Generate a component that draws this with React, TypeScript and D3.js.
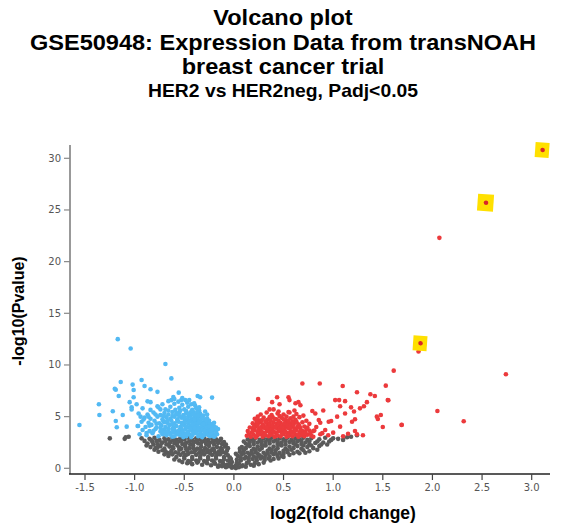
import React from 'react';
import * as d3 from 'd3';

// log2FC, -log10(p)
const downGenes: [number, number][] = [
  [-1.17, 12.5], [-1.04, 11.6], [-0.69, 10.1], [-0.63, 8.7], [-1.14, 8.35], [-1.19, 7.6], [-1.2, 7.7],
  [-1.02, 8.1], [-0.93, 8.55], [-0.9, 7.97], [-0.84, 7.65], [-0.77, 7.4], [-1.16, 7.0], [-1.01, 7.58],
  [-1.36, 6.2], [-1.355, 5.16], [-1.556, 4.19], [-1.22, 5.52], [-1.19, 4.58], [-1.18, 3.97], [-1.08, 4.03],
  [-1.12, 5.16], [-1.05, 6.4], [-1.03, 5.9], [-0.98, 6.2], [-1.03, 5.7], [-1.01, 6.87], [-0.94, 5.0],
  [-0.965, 4.1], [-0.87, 6.48], [-0.84, 6.4], [-0.77, 6.0], [-0.74, 5.7], [-0.556, 7.32], [-0.61, 6.9],
  [-0.63, 6.6], [-0.53, 6.6], [-0.49, 6.6], [-0.365, 7.0], [-0.34, 6.87], [-0.22, 6.84], [-0.29, 5.5], [-0.27, 5.2],
  [-0.95, 3.3], [-0.88, 3.2], [-0.82, 3.4], [-0.76, 3.1], [-0.72, 3.3], [-0.68, 3.2], [-0.64, 3.4], [-0.6, 3.1],
  [-0.57, 3.3], [-0.54, 3.2], [-0.51, 3.4], [-0.48, 3.1], [-0.45, 3.3], [-0.42, 3.2], [-0.39, 3.4], [-0.36, 3.1],
  [-0.33, 3.3], [-0.3, 3.2], [-0.27, 3.4], [-0.24, 3.1], [-0.21, 3.3], [-0.19, 3.15], [-0.17, 3.3],
  [-0.92, 3.7], [-0.85, 3.6], [-0.79, 3.8], [-0.74, 3.55], [-0.7, 3.75], [-0.66, 3.6], [-0.62, 3.8], [-0.59, 3.55],
  [-0.55, 3.7], [-0.52, 3.6], [-0.49, 3.8], [-0.46, 3.55], [-0.43, 3.7], [-0.4, 3.6], [-0.37, 3.8], [-0.34, 3.55],
  [-0.31, 3.7], [-0.28, 3.6], [-0.25, 3.8], [-0.22, 3.55], [-0.19, 3.7],
  [-0.97, 4.1], [-0.89, 4.0], [-0.83, 4.2], [-0.78, 3.95], [-0.73, 4.15], [-0.69, 4.0], [-0.65, 4.2], [-0.61, 3.95],
  [-0.58, 4.1], [-0.54, 4.0], [-0.5, 4.2], [-0.47, 3.95], [-0.44, 4.1], [-0.41, 4.0], [-0.38, 4.2], [-0.35, 3.95],
  [-0.32, 4.1], [-0.29, 4.0], [-0.26, 4.2], [-0.23, 3.95], [-0.2, 4.05],
  [-0.93, 4.5], [-0.86, 4.4], [-0.8, 4.6], [-0.75, 4.35], [-0.71, 4.55], [-0.67, 4.4], [-0.63, 4.6], [-0.6, 4.35],
  [-0.56, 4.5], [-0.53, 4.4], [-0.49, 4.6], [-0.46, 4.35], [-0.42, 4.5], [-0.39, 4.4], [-0.36, 4.6], [-0.33, 4.35],
  [-0.3, 4.5], [-0.27, 4.4], [-0.24, 4.3],
  [-0.9, 4.9], [-0.84, 4.8], [-0.77, 5.0], [-0.72, 4.75], [-0.68, 4.95], [-0.64, 4.8], [-0.6, 5.0], [-0.57, 4.75],
  [-0.53, 4.9], [-0.5, 4.8], [-0.46, 5.0], [-0.43, 4.75], [-0.4, 4.9], [-0.37, 4.8], [-0.33, 4.95], [-0.3, 4.75],
  [-0.27, 4.85],
  [-0.96, 5.3], [-0.87, 5.2], [-0.81, 5.4], [-0.74, 5.15], [-0.7, 5.35], [-0.66, 5.2], [-0.62, 5.45], [-0.58, 5.2],
  [-0.55, 5.4], [-0.51, 5.15], [-0.48, 5.35], [-0.44, 5.2], [-0.41, 5.45], [-0.38, 5.2], [-0.34, 5.3], [-0.31, 5.1],
  [-0.92, 5.8], [-0.84, 5.65], [-0.76, 5.9], [-0.69, 5.7], [-0.64, 5.95], [-0.59, 5.65], [-0.55, 5.85], [-0.5, 5.7],
  [-0.46, 5.95], [-0.42, 5.65], [-0.38, 5.8], [-0.35, 5.6],
  [-0.72, 6.2], [-0.66, 6.5], [-0.6, 6.25], [-0.56, 6.45], [-0.52, 6.15], [-0.47, 6.35], [-0.43, 6.2], [-0.39, 6.05],
  [-0.58, 3.45], [-0.53, 3.9], [-0.47, 4.7], [-0.41, 3.45], [-0.36, 4.3], [-0.31, 3.85], [-0.26, 3.5], [-0.22, 4.2],
  [-0.18, 3.55], [-0.5, 4.45], [-0.44, 3.85], [-0.39, 5.05], [-0.34, 4.65], [-0.29, 4.25], [-0.25, 4.6], [-0.21, 3.9],
  [-0.16, 3.8], [-0.55, 5.05], [-0.48, 5.55], [-0.43, 5.5], [-0.37, 5.45], [-0.62, 4.25], [-0.66, 3.85], [-0.7, 4.45],
  [-0.45, 6.6], [-0.4, 6.3], [-0.35, 5.9], [-0.52, 6.8], [-0.6, 6.7],
  [-0.62, 3.05], [-0.56, 3.58], [-0.51, 3.02], [-0.47, 3.48], [-0.43, 3.02], [-0.38, 3.52], [-0.35, 3.27], [-0.32, 3.02],
  [-0.29, 3.48], [-0.26, 3.22], [-0.23, 3.42], [-0.2, 3.05], [-0.18, 3.95], [-0.24, 3.68], [-0.27, 3.98], [-0.33, 3.75],
  [-0.37, 4.05], [-0.42, 4.25], [-0.45, 4.55], [-0.48, 4.05], [-0.52, 4.28], [-0.57, 4.58], [-0.6, 3.72], [-0.64, 3.25],
  [-0.67, 4.62], [-0.71, 3.42], [-0.74, 3.92], [-0.78, 4.32], [-0.81, 3.62], [-0.85, 4.12], [-0.88, 3.42], [-0.91, 4.72],
  [-0.35, 4.45], [-0.31, 4.28], [-0.28, 4.62], [-0.25, 4.05], [-0.22, 3.78], [-0.2, 4.4], [-0.4, 4.7], [-0.44, 5.05],
  [-0.5, 4.95], [-0.54, 5.6], [-0.58, 5.35], [-0.62, 5.05], [-0.66, 5.6], [-0.71, 5.05], [-0.79, 5.2], [-0.86, 5.0],
  [-0.41, 5.2], [-0.46, 5.3], [-0.36, 5.1], [-0.32, 4.9], [-0.3, 3.6], [-0.36, 3.75], [-0.4, 3.9], [-0.49, 3.28],
  [-0.55, 3.35], [-0.61, 3.5], [-0.68, 3.5], [-0.73, 3.7],
];

const upGenes: [number, number][] = [
  [2.07, 22.3], [1.86, 11.3], [2.74, 9.1], [1.61, 9.45], [1.53, 8.0], [1.556, 6.58], [2.05, 5.55], [1.69, 4.22],
  [1.5, 4.0], [2.315, 4.55], [1.48, 5.16],
  [0.69, 8.2], [0.865, 8.2], [1.096, 7.97], [1.24, 7.36], [0.244, 6.7], [0.435, 6.87], [0.55, 6.87], [0.56, 6.6],
  [0.385, 6.4], [0.46, 6.2], [0.65, 6.4], [0.67, 6.1], [0.62, 6.3], [0.36, 5.7], [0.4, 5.7], [0.45, 5.5], [0.56, 5.4],
  [0.61, 5.6], [0.79, 5.55], [0.82, 5.3], [0.9, 5.6], [1.02, 6.6], [1.06, 6.6], [1.12, 6.5], [1.375, 7.16], [1.42, 7.0],
  [1.34, 6.4], [1.31, 6.0], [1.27, 5.8], [1.55, 6.6], [1.18, 5.9], [1.21, 5.5], [1.07, 6.0], [1.12, 5.3], [1.44, 5.0],
  [1.45, 4.77], [1.22, 4.74], [1.19, 4.5], [1.69, 4.19], [1.04, 5.0], [0.98, 4.58], [0.955, 4.51], [1.07, 4.03],
  [1.22, 3.61], [1.24, 3.3], [0.855, 4.68], [0.87, 4.41], [0.92, 3.7], [0.89, 3.4], [0.81, 3.65], [0.87, 3.3],
  [0.95, 3.2], [1.0, 3.45], [1.1, 3.1], [1.15, 3.35], [1.3, 3.2],
  [0.13, 3.15], [0.17, 3.05], [0.2, 3.25], [0.23, 3.1], [0.26, 3.3], [0.29, 3.05], [0.32, 3.2], [0.35, 3.1], [0.38, 3.3],
  [0.41, 3.05], [0.44, 3.2], [0.47, 3.1], [0.5, 3.3], [0.53, 3.05], [0.56, 3.2], [0.59, 3.1], [0.62, 3.3], [0.65, 3.05],
  [0.68, 3.2], [0.71, 3.1], [0.74, 3.25], [0.78, 3.15],
  [0.14, 3.6], [0.18, 3.45], [0.21, 3.7], [0.24, 3.5], [0.27, 3.65], [0.3, 3.4], [0.33, 3.6], [0.36, 3.5], [0.39, 3.7],
  [0.42, 3.45], [0.45, 3.6], [0.48, 3.5], [0.51, 3.7], [0.54, 3.4], [0.57, 3.6], [0.6, 3.5], [0.63, 3.7], [0.66, 3.45],
  [0.69, 3.6], [0.72, 3.5], [0.76, 3.65],
  [0.16, 3.95], [0.19, 3.85], [0.22, 4.05], [0.25, 3.8], [0.28, 4.0], [0.31, 3.9], [0.34, 4.1], [0.37, 3.85], [0.4, 4.0],
  [0.43, 3.9], [0.46, 4.1], [0.49, 3.8], [0.52, 4.0], [0.55, 3.9], [0.58, 4.05], [0.61, 3.85], [0.64, 4.0], [0.67, 3.9],
  [0.71, 4.05],
  [0.19, 4.35], [0.22, 4.2], [0.26, 4.45], [0.29, 4.25], [0.33, 4.4], [0.36, 4.2], [0.4, 4.45], [0.43, 4.3], [0.47, 4.4],
  [0.5, 4.2], [0.54, 4.45], [0.57, 4.3], [0.61, 4.4], [0.65, 4.25], [0.69, 4.45],
  [0.21, 4.8], [0.25, 4.65], [0.3, 4.9], [0.34, 4.7], [0.39, 4.95], [0.43, 4.75], [0.48, 4.9], [0.52, 4.65], [0.57, 4.85],
  [0.62, 4.7], [0.66, 4.95],
  [0.27, 5.2], [0.33, 5.4], [0.38, 5.15], [0.44, 5.3], [0.5, 5.2], [0.55, 5.45], [0.63, 5.25], [0.7, 5.1],
  [0.15, 3.3], [0.19, 3.6], [0.22, 3.0], [0.25, 3.3], [0.28, 3.55], [0.31, 3.25], [0.34, 3.75], [0.37, 3.25], [0.4, 3.55],
  [0.43, 3.15], [0.46, 3.8], [0.49, 3.35], [0.52, 3.55], [0.55, 3.15], [0.58, 3.45], [0.61, 3.65], [0.64, 3.2],
  [0.67, 3.6], [0.7, 3.35], [0.73, 3.8], [0.77, 3.4], [0.8, 3.05], [0.2, 4.0], [0.24, 4.2], [0.27, 3.9], [0.3, 4.15],
  [0.33, 3.95], [0.36, 4.3], [0.39, 4.15], [0.42, 4.05], [0.45, 4.3], [0.48, 4.05], [0.51, 4.35], [0.54, 4.15],
  [0.57, 3.95], [0.6, 4.2], [0.63, 4.5], [0.66, 4.1], [0.23, 4.55], [0.28, 4.65], [0.32, 4.55], [0.37, 4.6], [0.41, 4.8],
  [0.45, 4.6], [0.5, 4.75], [0.55, 4.6], [0.59, 4.55], [0.24, 5.0], [0.36, 4.95], [0.46, 5.05], [0.53, 5.0], [0.6, 5.0],
  [0.73, 4.6], [0.76, 4.3], [0.74, 3.95], [0.8, 3.6], [0.83, 4.0],
];

const otherGenes: [number, number][] = [
  [-1.25, 2.9], [-1.09, 3.0], [-1.06, 3.05], [-1.1, 2.85],
  [-0.85, 2.85], [-0.8, 2.95], [-0.75, 2.75], [-0.7, 2.9], [-0.66, 2.8], [-0.62, 2.95], [-0.58, 2.75], [-0.54, 2.9],
  [-0.5, 2.8], [-0.46, 2.95], [-0.42, 2.75], [-0.38, 2.9], [-0.34, 2.8], [-0.3, 2.95], [-0.26, 2.75], [-0.22, 2.9],
  [-0.18, 2.8], [-0.14, 2.7],
  [-0.87, 2.4], [-0.82, 2.55], [-0.77, 2.35], [-0.72, 2.5], [-0.68, 2.3], [-0.64, 2.55], [-0.6, 2.4], [-0.56, 2.6],
  [-0.52, 2.35], [-0.48, 2.5], [-0.44, 2.3], [-0.4, 2.55], [-0.36, 2.4], [-0.32, 2.6], [-0.28, 2.35], [-0.24, 2.5],
  [-0.2, 2.3], [-0.16, 2.45], [-0.12, 2.35],
  [-0.84, 2.05], [-0.79, 1.95], [-0.74, 2.15], [-0.7, 1.9], [-0.65, 2.1], [-0.61, 1.95], [-0.57, 2.2], [-0.53, 1.9],
  [-0.49, 2.1], [-0.45, 1.95], [-0.41, 2.2], [-0.37, 1.9], [-0.33, 2.1], [-0.29, 1.95], [-0.25, 2.15], [-0.21, 1.9],
  [-0.17, 2.05], [-0.13, 1.95], [-0.09, 2.1],
  [-0.76, 1.6], [-0.72, 1.75], [-0.67, 1.5], [-0.63, 1.7], [-0.59, 1.55], [-0.55, 1.8], [-0.51, 1.5], [-0.47, 1.7],
  [-0.43, 1.55], [-0.39, 1.75], [-0.35, 1.5], [-0.31, 1.7], [-0.27, 1.55], [-0.23, 1.75], [-0.19, 1.5], [-0.15, 1.65],
  [-0.11, 1.55], [-0.07, 1.7],
  [-0.66, 1.2], [-0.62, 1.35], [-0.58, 1.1], [-0.54, 1.3], [-0.5, 1.15], [-0.46, 1.4], [-0.42, 1.1], [-0.38, 1.3],
  [-0.34, 1.15], [-0.3, 1.35], [-0.26, 1.1], [-0.22, 1.3], [-0.18, 1.15], [-0.14, 1.35], [-0.1, 1.1], [-0.06, 1.25],
  [-0.6, 0.85], [-0.55, 0.75], [-0.5, 0.95], [-0.46, 0.7], [-0.42, 0.9], [-0.38, 0.75], [-0.34, 0.95], [-0.3, 0.7],
  [-0.26, 0.9], [-0.22, 0.75], [-0.18, 0.95], [-0.14, 0.7], [-0.1, 0.85], [-0.06, 0.75], [-0.03, 0.9],
  [-0.47, 0.5], [-0.42, 0.4], [-0.37, 0.55], [-0.32, 0.35], [-0.27, 0.5], [-0.23, 0.3], [-0.19, 0.45], [-0.15, 0.3],
  [-0.11, 0.5], [-0.07, 0.35], [-0.04, 0.5],
  [-0.12, 0.2], [-0.08, 0.1], [-0.05, 0.2], [-0.02, 0.05], [0.0, 0.15], [0.02, 0.02],
  [-0.9, 2.65], [-0.93, 2.9], [-0.88, 2.2], [-0.83, 2.7], [-0.81, 2.3], [-0.78, 2.65], [-0.73, 2.45], [-0.69, 2.65],
  [-0.65, 2.4], [-0.61, 2.7], [-0.57, 2.5], [-0.53, 2.65], [-0.49, 2.3], [-0.45, 2.6], [-0.41, 2.45], [-0.37, 2.65],
  [-0.33, 2.45], [-0.29, 2.65], [-0.25, 2.4], [-0.21, 2.6], [-0.17, 2.6], [-0.13, 2.85], [-0.1, 2.55], [-0.08, 2.3],
  [-0.8, 1.8], [-0.77, 2.0], [-0.69, 1.65], [-0.62, 2.05], [-0.55, 2.0], [-0.48, 1.85], [-0.41, 1.95], [-0.34, 1.85],
  [-0.27, 1.8], [-0.2, 1.75], [-0.12, 1.8], [-0.06, 1.95], [-0.7, 1.35], [-0.64, 1.45], [-0.56, 1.45], [-0.48, 1.3],
  [-0.4, 1.55], [-0.32, 1.45], [-0.24, 1.45], [-0.16, 1.4], [-0.08, 1.45], [-0.04, 1.05], [-0.52, 0.6], [-0.44, 0.6],
  [-0.36, 0.65], [-0.28, 0.6], [-0.2, 0.6], [-0.12, 0.65], [-0.02, 0.6], [-0.08, 0.25], [-0.16, 0.15], [-0.03, 0.3],
  [0.18, 2.85], [0.22, 2.95], [0.26, 2.75], [0.3, 2.9], [0.34, 2.8], [0.38, 2.95], [0.42, 2.75], [0.46, 2.9], [0.5, 2.8],
  [0.54, 2.95], [0.58, 2.75], [0.62, 2.9], [0.66, 2.8], [0.7, 2.95], [0.74, 2.75], [0.78, 2.9], [0.86, 2.8], [0.92, 2.95],
  [1.0, 2.9], [1.05, 2.85], [1.1, 2.75], [1.14, 3.0], [1.18, 3.05], [1.24, 3.2],
  [0.12, 2.4], [0.16, 2.55], [0.2, 2.35], [0.24, 2.5], [0.28, 2.3], [0.32, 2.55], [0.36, 2.4], [0.4, 2.6], [0.44, 2.35],
  [0.48, 2.5], [0.52, 2.3], [0.56, 2.55], [0.6, 2.4], [0.64, 2.6], [0.68, 2.35], [0.72, 2.5], [0.76, 2.3], [0.82, 2.45],
  [0.9, 2.5], [0.96, 2.6],
  [0.08, 2.05], [0.12, 1.95], [0.16, 2.15], [0.2, 1.9], [0.24, 2.1], [0.28, 1.95], [0.32, 2.2], [0.36, 1.9], [0.4, 2.1],
  [0.44, 1.95], [0.48, 2.2], [0.52, 1.9], [0.56, 2.1], [0.6, 1.95], [0.64, 2.15], [0.68, 1.9], [0.74, 2.05], [0.8, 1.95],
  [0.86, 2.15],
  [0.06, 1.6], [0.1, 1.75], [0.14, 1.5], [0.18, 1.7], [0.22, 1.55], [0.26, 1.8], [0.3, 1.5], [0.34, 1.7], [0.38, 1.55],
  [0.42, 1.75], [0.46, 1.5], [0.5, 1.7], [0.54, 1.55], [0.58, 1.8], [0.64, 1.6], [0.7, 1.75], [0.76, 1.65],
  [0.04, 1.2], [0.08, 1.35], [0.12, 1.1], [0.16, 1.3], [0.2, 1.15], [0.24, 1.4], [0.28, 1.1], [0.32, 1.3], [0.36, 1.15],
  [0.4, 1.35], [0.44, 1.2], [0.5, 1.4], [0.56, 1.3],
  [0.03, 0.85], [0.07, 0.75], [0.11, 0.95], [0.15, 0.7], [0.19, 0.9], [0.23, 0.75], [0.27, 0.95], [0.31, 0.8], [0.35, 0.95],
  [0.4, 0.9],
  [0.05, 0.45], [0.09, 0.3], [0.13, 0.5], [0.17, 0.35], [0.21, 0.5], [0.25, 0.4], [0.3, 0.55],
  [0.05, 0.1], [0.08, 0.2], [0.12, 0.15],
  [0.1, 2.6], [0.14, 2.8], [0.2, 2.65], [0.28, 2.6], [0.36, 2.7], [0.44, 2.6], [0.52, 2.65], [0.6, 2.6], [0.68, 2.65],
  [0.76, 2.6], [0.84, 2.6], [0.88, 2.3], [0.94, 2.3], [0.98, 2.75], [0.06, 1.9], [0.14, 2.25], [0.22, 1.8], [0.3, 2.2],
  [0.38, 1.8], [0.46, 2.3], [0.54, 1.75], [0.62, 2.3], [0.7, 2.2], [0.78, 2.2], [0.84, 1.8], [0.02, 1.4], [0.1, 1.45],
  [0.18, 1.45], [0.26, 1.25], [0.34, 1.45], [0.42, 1.45], [0.48, 1.2], [0.6, 1.45], [0.66, 1.45], [0.72, 1.5],
  [0.03, 0.55], [0.07, 1.0], [0.15, 1.0], [0.23, 1.05], [0.31, 1.05], [0.37, 0.75], [0.45, 0.95], [0.5, 1.1],
  [0.2, 0.25], [0.02, 0.3],
];

// genes boxed in yellow
const highlighted: [number, number][] = [[3.11, 30.8], [2.54, 25.7], [1.88, 12.1]];

const xTicks = [-1.5, -1.0, -0.5, 0.0, 0.5, 1.0, 1.5, 2.0, 2.5, 3.0];
const yTicks = [0, 5, 10, 15, 20, 25, 30];

const titleLines = ['Volcano plot', 'GSE50948: Expression Data from transNOAH', 'breast cancer trial'];
const subtitle = 'HER2 vs HER2neg, Padj<0.05';

const App = () => {
  const width = 561;
  const height = 523;
  const x = d3.scaleLinear().domain([-1.5, 3.0]).range([85, 531.7]);
  const y = d3.scaleLinear().domain([0, 30]).range([468.3, 158.3]);
  const axisLeft = 70;
  const axisBottom = 474;
  const r = 2.3;
  const font = '"Liberation Sans", Arial, sans-serif';

  return (
    <svg width={width} height={height} style={{ position: 'absolute', left: 0, top: 0 }}>
      <rect width={width} height={height} fill="#fff" />
      <g fontFamily={font} fontWeight="bold" textAnchor="middle" fill="#000">
        {titleLines.map((t, i) => (
          <text key={t} transform={`translate(283,${25 + i * 24.6}) scale(1.1,1)`} fontSize={21.4}>{t}</text>
        ))}
        <text transform="translate(283,96.5) scale(1.05,1)" fontSize={18.4}>{subtitle}</text>
        <text x={343} y={519} fontSize={17.5}>log2(fold change)</text>
        <text transform={`translate(24,${311}) rotate(-90)`} fontSize={16}>-log10(Pvalue)</text>
      </g>

      {/* axes */}
      <line x1={axisLeft} x2={axisLeft} y1={145} y2={axisBottom} stroke="#999" strokeWidth={2} />
      <line x1={axisLeft - 1} x2={550} y1={axisBottom} y2={axisBottom} stroke="#222" strokeWidth={1.5} />
      <g fontFamily='"DejaVu Sans", sans-serif' fontSize={10} fill="#555">
        {yTicks.map(t => (
          <g key={t} transform={`translate(0,${y(t)})`}>
            <line x1={axisLeft - 6} x2={axisLeft} stroke="#888" strokeWidth={1.2} />
            <text x={axisLeft - 9} dy="0.35em" textAnchor="end">{t}</text>
          </g>
        ))}
        {xTicks.map(t => (
          <g key={t} transform={`translate(${x(t)},${axisBottom})`}>
            <line y1={0} y2={6} stroke="#444" strokeWidth={1.2} />
            <text y={17} textAnchor="middle">{t.toFixed(1)}</text>
          </g>
        ))}
      </g>

      {/* points */}
      <g fill="#5a5a5a">
        {otherGenes.map((d, i) => <circle key={i} cx={x(d[0])} cy={y(d[1])} r={r} />)}
      </g>
      <g fill="#52b9f3">
        {downGenes.map((d, i) => <circle key={i} cx={x(d[0])} cy={y(d[1])} r={r} />)}
      </g>
      <g fill="#ec3a3c">
        {upGenes.map((d, i) => <circle key={i} cx={x(d[0])} cy={y(d[1])} r={r} />)}
      </g>
      {highlighted.map((d, i) => {
        const s = i === 1 ? 17 : 15;
        return (
          <g key={i} transform={`translate(${x(d[0])},${y(d[1])}) rotate(4)`}>
            <rect x={-s / 2} y={-s / 2} width={s - 1} height={s} fill="#ffe000" />
            <circle r={r} fill="#d8262a" />
          </g>
        );
      })}
    </svg>
  );
};

export default App;
